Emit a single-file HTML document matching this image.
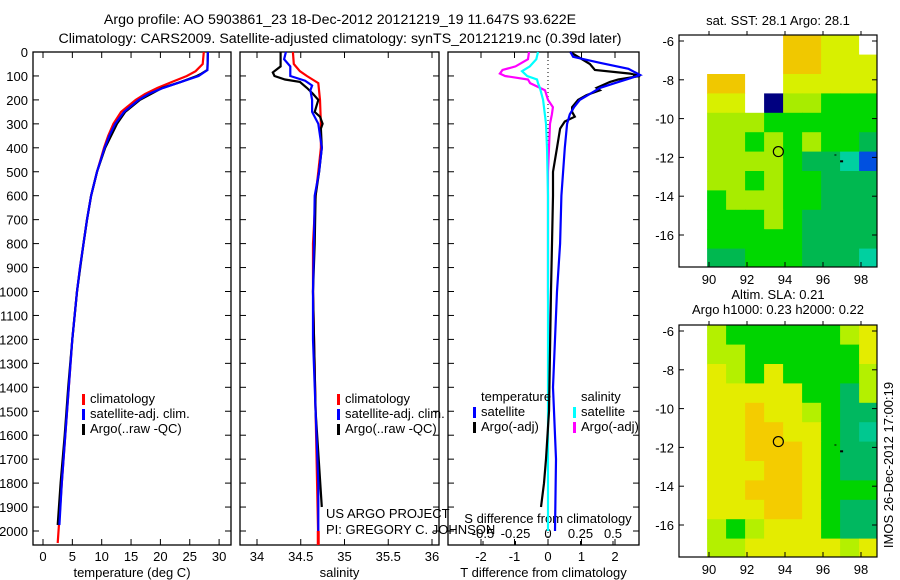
<!DOCTYPE html>
<html><head><meta charset="utf-8"><style>
html,body{margin:0;padding:0;background:#fff;}
svg{display:block;font-family:"Liberation Sans",sans-serif;}
text{fill:#000;font-size:13px;}
</style></head><body>
<svg id="fig" width="900" height="580" viewBox="0 0 900 580">
<text x="340" y="24" text-anchor="middle" style="font-size:14.2px">Argo profile: AO 5903861_23 18-Dec-2012 20121219_19 11.647S 93.622E</text>
<text x="340" y="43" text-anchor="middle" style="font-size:14.2px">Climatology: CARS2009. Satellite-adjusted climatology: synTS_20121219.nc (0.39d later)</text>
<g id="g"></g>
</svg>
<script>
// ---- data ----
const depthTicks=[0,100,200,300,400,500,600,700,800,900,1000,1100,1200,1300,1400,1500,1600,1700,1800,1900,2000];
const tempTicks=[0,5,10,15,20,25,30];
const salTicks=[34,34.5,35,35.5,36];
const tdTicks=[-2,-1,0,1,2];
const sdTicks=[-0.5,-0.25,0,0.25,0.5];
const sdTickLabels=["-0.5","-0.25","0","0.25","0.5"];
const tClimD=[0,50,80,100,125,150,175,200,250,300,350,400,500,600,700,800,900,1000,1200,1400,1600,1800,2050];
const tClimV=[27.4,27.2,26,24.5,22,19.5,17.4,15.8,13.3,12.0,11.1,10.4,9.2,8.2,7.5,6.9,6.3,5.8,5.0,4.4,3.8,3.2,2.5];
const tSatD=[0,75,100,125,150,175,200,250,300,350,400,500,600,700,800,900,1000,1200,1400,1600,1800,1975];
const tSatV=[28.1,28.0,26.5,23.5,20.5,18,16.3,13.8,12.3,11.3,10.5,9.2,8.2,7.5,6.9,6.3,5.8,5.0,4.4,3.8,3.2,2.8];
const tArgD=[0,75,90,100,125,150,200,250,300,350,400,500,600,700,800,1000,1200,1400,1600,1800,1975];
const tArgV=[28.1,28.0,27,26.2,23.5,20.3,16.5,14,12.6,11.6,10.6,9.2,8.2,7.5,6.9,5.8,5.0,4.3,3.7,3.0,2.5];
const sClimD=[0,50,80,100,130,200,300,400,500,600,800,1000,1500,2050];
const sClimV=[34.41,34.42,34.49,34.57,34.70,34.72,34.73,34.73,34.70,34.67,34.64,34.64,34.67,34.70];
const sSatD=[0,30,60,100,120,140,160,200,250,300,400,500,600,800,1000,1200,1500,1800,2000];
const sSatV=[34.33,34.31,34.38,34.38,34.55,34.63,34.61,34.63,34.63,34.70,34.74,34.71,34.66,34.65,34.64,34.64,34.67,34.70,34.70];
const sArgD=[0,60,85,100,115,125,150,175,200,250,270,300,320,400,500,600,800,1000,1500,1900];
const sArgV=[34.27,34.27,34.18,34.20,34.32,34.49,34.57,34.64,34.70,34.66,34.72,34.75,34.73,34.74,34.71,34.67,34.66,34.64,34.67,34.74];
const tdSatD=[0,20,45,70,96,110,130,150,175,200,230,260,300,400,500,600,800,1000,1400,1700,2000];
const tdSatV=[0.67,0.75,1.55,2.4,2.75,2.45,2.0,1.55,1.25,0.95,0.78,0.65,0.57,0.5,0.45,0.4,0.36,0.27,0.15,0.24,0.21];
const tdArgD=[0,50,75,90,100,115,125,150,160,180,200,230,250,270,290,320,400,500,600,800,1000,1500,1700,1800,1900];
const tdArgV=[0.66,1.25,1.4,2.45,2.75,2.1,1.85,1.45,1.55,1.15,0.9,0.72,0.72,0.8,0.5,0.36,0.27,0.15,0.15,0.12,0.09,0.03,-0.06,-0.12,-0.21];
const sdSatD=[0,30,60,80,100,115,130,150,200,300,400,600,1000,2000];
const sdSatV=[-0.077,-0.09,-0.14,-0.2,-0.16,-0.085,-0.077,-0.062,-0.038,-0.015,-0.008,0,0,0];
const sdArgD=[0,30,60,75,90,100,115,130,160,200,230,260,300,400,500,1000,1500];
const sdArgV=[-0.146,-0.154,-0.25,-0.35,-0.37,-0.33,-0.154,-0.138,-0.023,0,0.038,0.03,0.015,0.008,0,0,0.008];
const sstRows=["WWWWOOYYW","WWWWOOYYY","OOWWYYYYY","YYWNLLGGG","LLLGGGGGG","LLGLGLGGD","LLLLGDDTB","LLGLGGDDD","GLLLGGDDD","GGGLGDDDD","GGGGGDDDD","DDGGGDDDT"];
const slaRows=["LGGGGGGLY","LLGGGGGGY","YLGYGGGGL","YYYYYGGDL","YYOYYLGDD","YYOOYYGDT","YYOOOYGDD","YYYOOYGDD","YYOOOYGGG","YYYOOYGDD","LGLYYYGDD","LLYYYYYLY"];
const latTicks=[-6,-8,-10,-12,-14,-16];
const lonTicks=[90,92,94,96,98];
const argoLon=93.65, argoLat=-11.7;

const NS="http://www.w3.org/2000/svg";
const G=document.getElementById('g');
function el(t,a,p){const e=document.createElementNS(NS,t);for(const k in a)e.setAttribute(k,a[k]);(p||G).appendChild(e);return e;}
function txt(x,y,s,anchor,p){const e=el('text',{x:x,y:y,'text-anchor':anchor||'start'},p);e.textContent=s;return e;}
const Y=d=>52+d*0.2395;
const plotTop=52,plotBot=545;

function panel(name,x0,x1,xs,ticks,labels,xlabel){
  const r=el('rect',{x:x0,y:plotTop,width:x1-x0,height:plotBot-plotTop,fill:'none',stroke:'#000','stroke-width':1.3});
  
  
  ticks.forEach((t,i)=>{const x=xs(t);
    el('line',{x1:x,x2:x,y1:plotBot,y2:plotBot-6,stroke:'#000'});
    el('line',{x1:x,x2:x,y1:plotTop,y2:plotTop+6,stroke:'#000'});
    if(labels){const tl=txt(x,561,labels[i],'middle');
      
      }
  });
  depthTicks.forEach(d=>{el('line',{x1:x0,x2:x0+6,y1:Y(d),y2:Y(d),stroke:'#000'});el('line',{x1:x1,x2:x1-6,y1:Y(d),y2:Y(d),stroke:'#000'});});
  const xl=txt((x0+x1)/2,577,xlabel,'middle');
  
  
}
function line(name,xs,D,V,color){
  const pts=D.map((d,i)=>xs(V[i]).toFixed(1)+','+Y(d).toFixed(1)).join(' ');
  const p=el('polyline',{points:pts,fill:'none',stroke:color,'stroke-width':2.2});
  
  
}
function legend(name,x,y,entries){
  entries.forEach((e,i)=>{const yy=y+i*15;
    if(e[1])el('rect',{x:x,y:yy-9,width:3,height:11,fill:e[1]});
    const t=txt(x+8,yy,e[0]);
    
    });
}

depthTicks.forEach(d=>{const t=txt(28,Y(d)+5,String(d),'end');
  
  });

const xT=v=>43+v*5.87;
panel('temperature-panel',33,231,xT,tempTicks,tempTicks.map(String),'temperature (deg C)');
line('temp-climatology',xT,tClimD,tClimV,'#ff0000');
line('temp-argo',xT,tArgD,tArgV,'#000000');
line('temp-satellite-adj',xT,tSatD,tSatV,'#0000ff');
legend('temp-legend',82,403,[['climatology','#ff0000'],['satellite-adj. clim.','#0000ff'],['Argo(..raw -QC)','#000']]);

const xS=v=>257+(v-34)*87.5;
panel('salinity-panel',240,439,xS,salTicks,salTicks.map(String),'salinity');
line('sal-climatology',xS,sClimD,sClimV,'#ff0000');
line('sal-argo',xS,sArgD,sArgV,'#000000');
line('sal-satellite-adj',xS,sSatD,sSatV,'#0000ff');
el('rect',{x:xS(34.70)-1.5,y:Y(2000),width:3,height:plotBot-Y(2000),fill:'#ff0000'});
legend('sal-legend',337,403,[['climatology','#ff0000'],['satellite-adj. clim.','#0000ff'],['Argo(..raw -QC)','#000']]);
txt(326,518,'US ARGO PROJECT');
txt(326,534,'PI: GREGORY C. JOHNSON');

const xTD=v=>548+v*33.5;
const xSD=v=>548+v*130;
panel('difference-panel',448,639,xTD,tdTicks,tdTicks.map(String),'T difference from climatology');
sdTicks.forEach((t,i)=>{const x=xSD(t);el('line',{x1:x,x2:x,y1:plotBot,y2:plotBot-4,stroke:'#000'});
  const tl=txt(x,538,sdTickLabels[i],'middle');
  
  });
txt(548,523,'S difference from climatology','middle');
el('line',{x1:548,x2:548,y1:plotTop,y2:plotBot,stroke:'#000','stroke-dasharray':'1,3'});
line('sdiff-argo',xSD,sdArgD,sdArgV,'#ff00ff');
line('sdiff-satellite',xSD,sdSatD,sdSatV,'#00ffff');
line('tdiff-argo',xTD,tdArgD,tdArgV,'#000000');
line('tdiff-satellite',xTD,tdSatD,tdSatV,'#0000ff');
legend('tdiff-legend',473,401,[['temperature',null],['satellite','#0000ff'],['Argo(-adj)','#000']]);
legend('sdiff-legend',573,401,[['salinity',null],['satellite','#00ffff'],['Argo(-adj)','#ff00ff']]);

const COL={W:'#ffffff',O:'#f0c800',Y:'#d8f000',L:'#a8ec00',G:'#00d800',D:'#00b850',T:'#00d0a0',N:'#000080',B:'#0050e0'};
const COL2={O:'#f4cc00',Y:'#e4ec00',L:'#b4f000',G:'#00d400',D:'#00b860',T:'#00c890',W:'#fff'};
function map(name,yTop,yLat6,rows,pal,t1,t2){
  const xL=v=>709+(v-90)*19;
  const yL=v=>yLat6+(-6-v)*19.4;
  rows.forEach((row,r)=>{[...row].forEach((c,k)=>{
    const lon0=89.9+k, lat0=-5.7-r;
    const x=xL(lon0), y=yL(lat0), w=Math.min(xL(lon0+1),877)-x, h=Math.min(yL(lat0-1),yTop+232)-y;
    const cell=el('rect',{x:x.toFixed(1),y:y.toFixed(1),width:(w+0.5).toFixed(1),height:(h+0.5).toFixed(1),fill:pal[c]});
    
    
  });});
  const fr=el('rect',{x:679,y:yTop,width:198,height:232,fill:'none',stroke:'#000','stroke-width':1.2});
  
  
  latTicks.forEach(l=>{const y=yL(l);el('line',{x1:679,x2:684,y1:y,y2:y,stroke:'#000'});el('line',{x1:877,x2:872,y1:y,y2:y,stroke:'#000'});
    const t=txt(674,y+5,String(l),'end');
    
    });
  lonTicks.forEach(l=>{const x=xL(l);el('line',{x1:x,x2:x,y1:yTop+232,y2:yTop+227,stroke:'#000'});el('line',{x1:x,x2:x,y1:yTop,y2:yTop-4,stroke:'#000'});
    const t=txt(x,yTop+249,String(l),'middle');
    
    });
  const c=el('circle',{cx:xL(argoLon),cy:yL(argoLat),r:5,fill:'none',stroke:'#000','stroke-width':1.2});
  
  
  el('rect',{x:xL(96.9),y:yL(-12.15),width:3,height:2,fill:'#000'});
  el('rect',{x:xL(96.6),y:yL(-11.85),width:2,height:1,fill:'#000'});
  if(t1){const a=txt(778,yTop-(t2?26:10),t1,'middle');}
  if(t2){const b=txt(778,yTop-11,t2,'middle');}
}
map('sst-map',35,41,sstRows,COL,'sat. SST: 28.1 Argo: 28.1',null);
map('sla-map',325,331,slaRows,COL2,'Altim. SLA: 0.21','Argo h1000: 0.23 h2000: 0.22');
const v=txt(0,0,'IMOS 26-Dec-2012 17:00:19','middle');
v.setAttribute('transform','translate(893,465) rotate(-90)');


</script>
</body></html>
